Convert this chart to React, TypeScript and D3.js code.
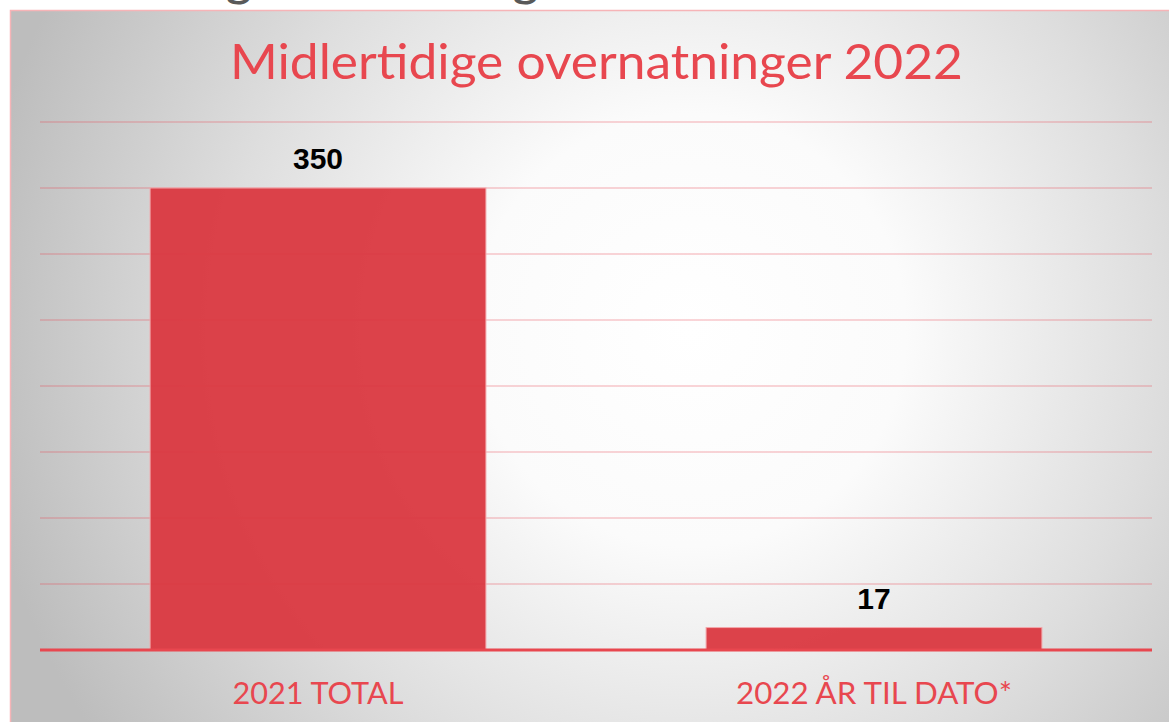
import React from "react";
import * as d3 from "d3";

const categories = ["2021 TOTAL", "2022 ÅR TIL DATO*"];
const values = [350, 17];
const valueLabels = ["350", "17"];
const gridTicks = [50, 100, 150, 200, 250, 300, 350, 400];
const title = "Midlertidige overnatninger 2022";

const W = 1169;
const H = 722;

export default function App() {
  const x = d3
    .scaleBand<string>()
    .domain(categories)
    .range([40, 1152])
    .paddingInner(0.396)
    .paddingOuter(0.198);
  const y = d3.scaleLinear().domain([0, 400]).range([650, 122]);
  const red = "#e8474f";

  return (
    <svg
      width={W}
      height={H}
      style={{ position: "absolute", left: 0, top: 0, display: "block" }}
    >
      <defs>
        <radialGradient id="bg" gradientUnits="userSpaceOnUse" cx={690} cy={330} r={720}>
          <stop offset="0" stopColor="#ffffff" />
          <stop offset="0.3" stopColor="#fbfbfb" />
          <stop offset="0.65" stopColor="#dedede" />
          <stop offset="1" stopColor="#bdbdbd" />
        </radialGradient>
      </defs>
      <rect x={0} y={0} width={W} height={H} fill="#ffffff" />
      <text
        x={20}
        y={-3}
        fontFamily="Lato, 'DejaVu Sans', sans-serif"
        fontSize={40}
        fontWeight={700}
        fill="#595959"
        textLength={560}
        lengthAdjust="spacingAndGlyphs"
      >
        Midlertidige overnatninger
      </text>
      <rect x={10.5} y={10.5} width={W} height={H} fill="url(#bg)" stroke="#f6b4b7" strokeWidth={1.5} />
      <text
        x={596.5}
        y={79}
        textAnchor="middle"
        fontFamily="Lato, 'Open Sans', sans-serif"
        fontWeight={400}
        fontSize={48}
        fill={red}
        textLength={733}
        lengthAdjust="spacingAndGlyphs"
      >
        {title}
      </text>
      {gridTicks.map((t) => (
        <line
          key={t}
          x1={40}
          x2={1152}
          y1={y(t)}
          y2={y(t)}
          stroke={red}
          strokeOpacity={0.3}
          strokeWidth={1.5}
        />
      ))}
      {categories.map((c, i) => (
        <rect
          key={c}
          x={x(c)}
          y={y(values[i])}
          width={x.bandwidth()}
          height={y(0) - y(values[i])}
          fill="#da3840"
          fillOpacity={0.95}
          stroke="#f3a7ab"
          strokeWidth={1}
        />
      ))}
      <line x1={40} x2={1152} y1={y(0)} y2={y(0)} stroke={red} strokeWidth={3} />
      {categories.map((c, i) => (
        <text
          key={"v" + c}
          x={(x(c) as number) + x.bandwidth() / 2}
          y={y(values[i]) - 19}
          textAnchor="middle"
          fontFamily="'Liberation Sans', Arial, sans-serif"
          fontWeight={700}
          fontSize={30}
          fill="#000000"
        >
          {valueLabels[i]}
        </text>
      ))}
      {categories.map((c, i) => (
        <text
          key={"l" + c}
          x={(x(c) as number) + x.bandwidth() / 2}
          y={704}
          textAnchor="middle"
          fontFamily="Lato, 'Open Sans', sans-serif"
          fontWeight={400}
          fontSize={31}
          fill={red}
          textLength={i === 0 ? 171 : 276}
          lengthAdjust="spacingAndGlyphs"
        >
          {c}
        </text>
      ))}
    </svg>
  );
}
